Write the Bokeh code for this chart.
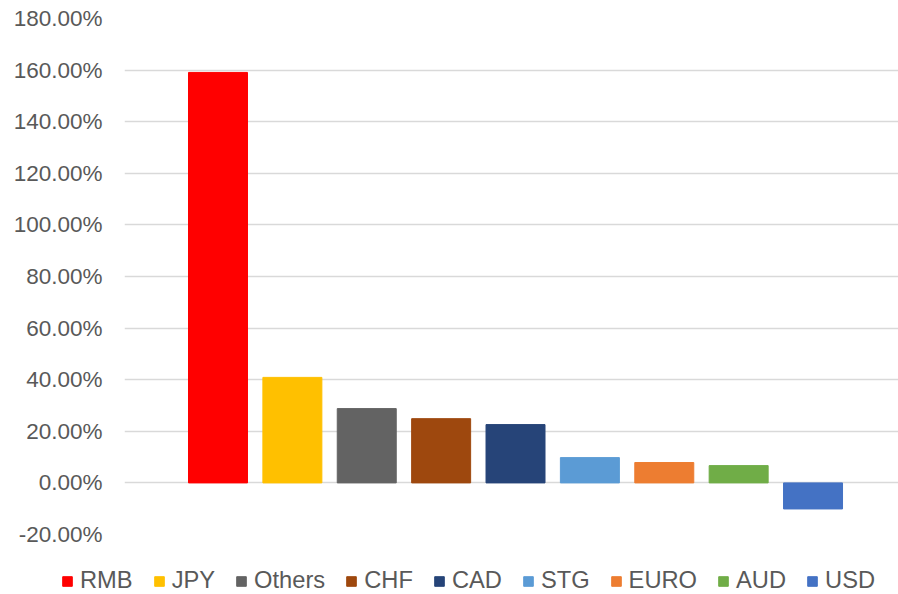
from bokeh.plotting import figure
from bokeh.layouts import column, row
from bokeh.models import ColumnDataSource, Range1d, FixedTicker, PrintfTickFormatter, Legend, LegendItem
from bokeh.embed import file_html
from bokeh.resources import INLINE

currencies = ["RMB", "JPY", "Others", "CHF", "CAD", "STG", "EURO", "AUD", "USD"]
changes = [159.1, 40.9, 28.8, 24.9, 22.6, 9.8, 7.9, 6.7, -10.1]
colors = ["#FF0000", "#FFC000", "#636363", "#9E480E", "#264478",
          "#5B9BD5", "#ED7D31", "#70AD47", "#4472C4"]
y_ticks = [-20, 0, 20, 40, 60, 80, 100, 120, 140, 160, 180]

FONT = "Liberation Sans"
TEXT_COLOR = "#595959"

positions = list(range(len(currencies)))
src = ColumnDataSource(dict(x=positions, top=changes, name=currencies, color=colors))

# main chart
p = figure(width=898, height=550, output_backend="svg", toolbar_location=None,
           x_range=Range1d(-1.257, 9.149), y_range=Range1d(-20, 180),
           min_border_left=124, min_border_right=0, min_border_top=18, min_border_bottom=16)
p.outline_line_color = None
p.background_fill_color = "white"
p.border_fill_color = "white"

r = p.vbar(x="x", top="top", bottom=0, width=0.793, color="color", source=src)

p.xaxis.visible = False
p.xgrid.visible = False
p.ygrid.grid_line_color = "#d9d9d9"
p.ygrid.grid_line_width = 1.5
p.yaxis.ticker = FixedTicker(ticks=y_ticks)
p.yaxis.formatter = PrintfTickFormatter(format="%.2f%%")
p.yaxis.axis_line_color = None
p.yaxis.major_tick_line_color = None
p.yaxis.minor_tick_line_color = None
p.yaxis.major_tick_in = 0
p.yaxis.major_tick_out = 0
p.yaxis.major_label_standoff = 22
p.yaxis.major_label_text_font = FONT
p.yaxis.major_label_text_font_size = "22.5px"
p.yaxis.major_label_text_color = TEXT_COLOR

# legend strip (its bars lie far outside its visible y range)
q = figure(width=898, height=44, output_backend="svg", toolbar_location=None,
           x_range=Range1d(0, 898), y_range=Range1d(1000, 1044),
           min_border_left=0, min_border_right=0, min_border_top=0, min_border_bottom=0)
q.outline_line_color = None
q.axis.visible = False
q.grid.visible = False
rq = q.vbar(x="x", top="top", bottom=0, width=0.793, color="color", source=src)

items = [LegendItem(label=c, renderers=[rq], index=i) for i, c in enumerate(currencies)]
legend = Legend(items=items, orientation="horizontal", location=(61, 0),
                padding=0, margin=0, spacing=20, label_standoff=7,
                glyph_width=12, glyph_height=12,
                border_line_color=None, background_fill_alpha=0,
                label_text_font=FONT, label_text_font_size="23.7px",
                label_text_color=TEXT_COLOR)
q.add_layout(legend, "center")

layout = column(p, row(q), spacing=0)
open("out.html", "w").write(file_html(layout, INLINE))
